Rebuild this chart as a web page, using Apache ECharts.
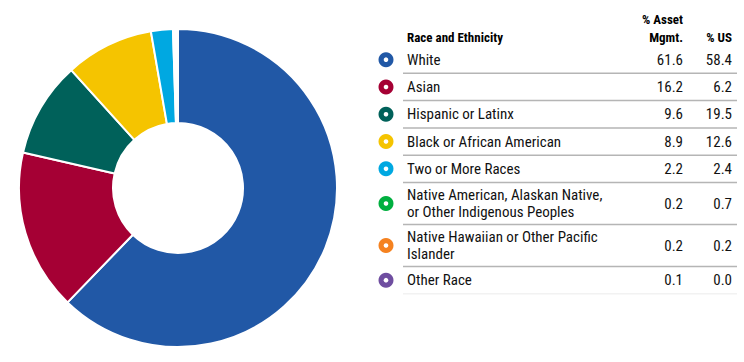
<!DOCTYPE html>
<html>
<head>
<meta charset="utf-8">
<script src="https://cdn.jsdelivr.net/npm/echarts@6/dist/echarts.min.js"></script>
<style>
html,body{margin:0;padding:0;background:#fff;}
#c{width:744px;height:362px;}
</style>
</head>
<body>
<div id="c"></div>
<script>
var categories = ['White', 'Asian', 'Hispanic or Latinx', 'Black or African American', 'Two or More Races', 'Native American, Alaskan Native,\nor Other Indigenous Peoples', 'Native Hawaiian or Other Pacific\nIslander', 'Other Race'];
var assetMgmt = [61.6, 16.2, 9.6, 8.9, 2.2, 0.2, 0.2, 0.1];
var usPop = [58.4, 6.2, 19.5, 12.6, 2.4, 0.7, 0.2, 0.0];
var colors = ['#2158A6', '#A50034', '#00615A', '#F5C400', '#00A8E1', '#00AF3F', '#F58220', '#6F4EA0'];
var headers = ['Race and Ethnicity', '% Asset\nMgmt.', '% US'];

var FONT = '"Roboto Condensed", "Liberation Sans Narrow", "Arial Narrow", "DejaVu Sans Condensed", sans-serif';

var chart = echarts.init(document.getElementById('c'), null, {renderer: 'svg'});

var graphics = [];
var xMarker = 386, xName = 407, xCol1 = 683, xCol2 = 732, xLine0 = 403, xLine1 = 737;
var yTop = 46, hSingle = 27.3, hDouble = 42, lineH = 17.5;

graphics.push({type: 'text', x: xName, y: 37, style: {text: headers[0], font: 'bold 13px ' + FONT, fill: '#000', verticalAlign: 'middle'}});
graphics.push({type: 'text', x: xCol1, y: 28, style: {text: headers[1], font: 'bold 13px ' + FONT, fill: '#000', align: 'right', verticalAlign: 'middle', lineHeight: 18}});
graphics.push({type: 'text', x: xCol2, y: 37, style: {text: headers[2], font: 'bold 13px ' + FONT, fill: '#000', align: 'right', verticalAlign: 'middle'}});

var y = yTop;
for (var i = 0; i < categories.length; i++) {
  var nLines = categories[i].split('\n').length;
  var h = nLines > 1 ? hDouble : hSingle;
  var cy = y + h / 2;
  graphics.push({type: 'circle', shape: {cx: xMarker, cy: cy, r: 7.5}, style: {fill: colors[i]}});
  graphics.push({type: 'circle', shape: {cx: xMarker, cy: cy, r: 2.3}, style: {fill: '#fff'}});
  graphics.push({type: 'text', x: xName, y: cy, style: {text: categories[i], font: '15px ' + FONT, fill: '#111', verticalAlign: 'middle', lineHeight: lineH}});
  graphics.push({type: 'text', x: xCol1, y: cy, style: {text: assetMgmt[i].toFixed(1), font: '15px ' + FONT, fill: '#111', align: 'right', verticalAlign: 'middle'}});
  graphics.push({type: 'text', x: xCol2, y: cy, style: {text: usPop[i].toFixed(1), font: '15px ' + FONT, fill: '#111', align: 'right', verticalAlign: 'middle'}});
  y += h;
  graphics.push({type: 'line', shape: {x1: xLine0, y1: y, x2: xLine1, y2: y}, style: {stroke: i === categories.length - 1 ? '#f2f2f2' : '#b5b5b5', lineWidth: 1.5}});
}

chart.setOption({
  animation: false,
  backgroundColor: '#fff',
  color: colors,
  series: [{
    type: 'pie',
    center: [178, 188],
    radius: [65, 159],
    startAngle: 90,
    clockwise: true,
    label: {show: false},
    labelLine: {show: false},
    itemStyle: {borderColor: '#fff', borderWidth: 2},
    emphasis: {disabled: true},
    data: categories.map(function (c, i) { return {name: c, value: assetMgmt[i]}; })
  }],
  graphic: graphics
});
</script>
</body>
</html>
